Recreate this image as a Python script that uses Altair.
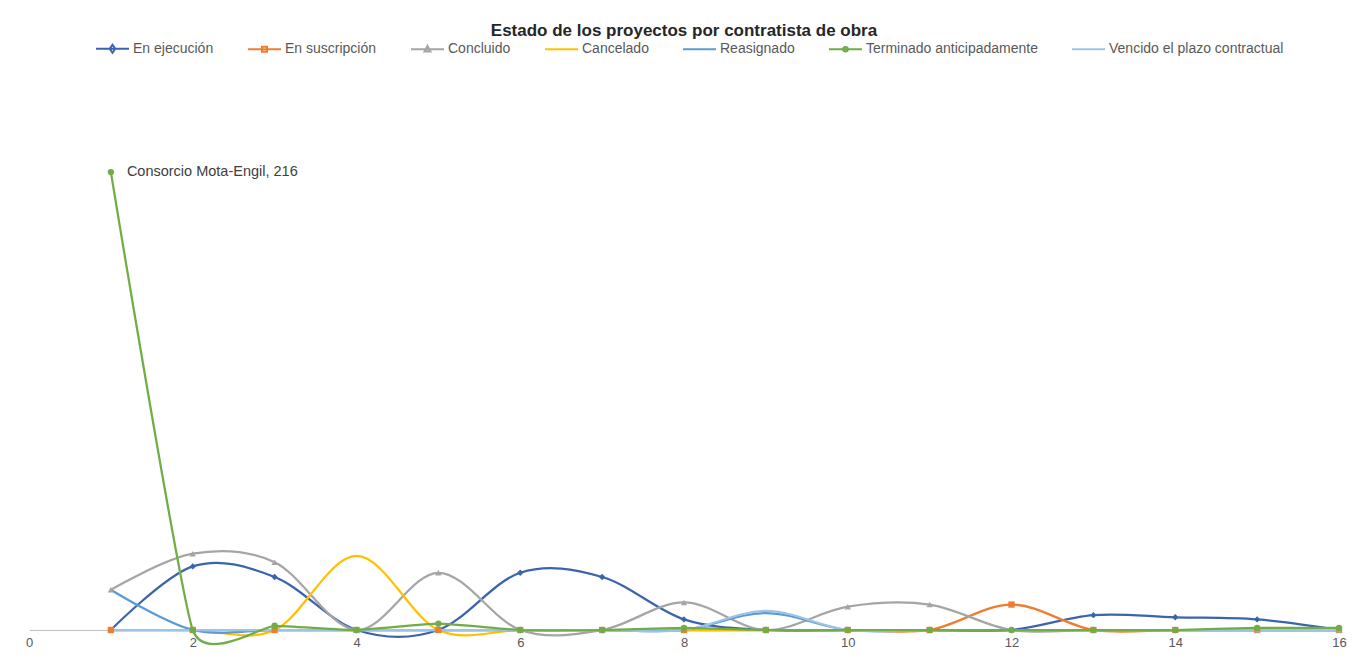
import altair as alt
import pandas as pd

# ---- data ----
x_vals = list(range(1, 17))
series = ["En ejecución", "En suscripción", "Concluido", "Cancelado",
          "Reasignado", "Terminado anticipadamente", "Vencido el plazo contractual"]
en_ejecucion = [0, 30, 25, 0, 0, 27, 25, 5, 0, 0, 0, 0, 7, 6, 5, 0]
en_suscripcion = [0, 0, 0, 0, 0, 0, 0, 0, 0, 0, 0, 12, 0, 0, 0, 0]
concluido = [19, 36, 32, 0, 27, 0, 0, 13, 0, 11, 12, 0, 0, 0, 0, 0]
cancelado = [0, 0, 0, 35, 0, 0, 0, 0, 0, 0, 0, 0, 0, 0, 0, 0]
reasignado = [19, 0, 0, 0, 0, 0, 0, 0, 8, 0, 0, 0, 0, 0, 0, 0]
terminado = [216, 0, 2, 0, 3, 0, 0, 1, 0, 0, 0, 0, 0, 0, 1, 1]
vencido = [0, 0, 0, 0, 0, 0, 0, 0, 9, 0, 0, 0, 0, 0, 0, 0]
x_ticks = [0, 2, 4, 6, 8, 10, 12, 14, 16]

label_series = "Terminado anticipadamente"
label_x = 1
label_value = 216
label_name = "Consorcio Mota-Engil"

colors = ["#3B64AD", "#ED7D31", "#A5A5A5", "#FFC000", "#5B9BD5", "#70AD47", "#9DC3E6"]

values = [en_ejecucion, en_suscripcion, concluido, cancelado, reasignado, terminado, vencido]
rows = []
for s_i, (s, vals) in enumerate(zip(series, values)):
    for x, v in zip(x_vals, vals):
        rows.append({"serie": s, "orden": s_i, "x": x, "y": v})
df = pd.DataFrame(rows)

lab_df = pd.DataFrame([{"x": label_x, "y": label_value,
                        "texto": f"{label_name}, {label_value}"}])

FONT = "Liberation Sans"

# legend symbols: line with marker in the middle
line_p = "M-1,0L1,0"
legend_paths = [
    line_p + "M0,-0.24L0.17,0L0,0.24L-0.17,0Z",
    line_p + "M-0.15,-0.15L0.15,-0.15L0.15,0.15L-0.15,0.15Z",
    line_p + "M0,-0.2L0.18,0.14L-0.18,0.14Z",
    line_p,
    line_p,
    line_p + "M-0.14,0A0.14,0.14 0 1,0 0.14,0A0.14,0.14 0 1,0 -0.14,0Z",
    line_p,
]

x_enc = alt.X("x:Q", scale=alt.Scale(domain=[0, 16], nice=False),
              axis=alt.Axis(values=x_ticks, title=None, grid=False, ticks=False,
                            labelFlush=False, labelFont=FONT, labelFontSize=13,
                            labelColor="#595959", domainColor="#BFBFBF",
                            labelPadding=6))
y_enc = alt.Y("y:Q", scale=alt.Scale(domain=[0, 250], nice=False, zero=False), axis=None)


def color_enc(legend=None):
    return alt.Color("serie:N", scale=alt.Scale(domain=series, range=colors), legend=legend)


base = alt.Chart(df)

lines_main = base.transform_filter(
    alt.datum.serie != label_series
).mark_line(interpolate="cardinal", tension=0, strokeWidth=2.25).encode(
    x=x_enc, y=y_enc, color=color_enc(), order="orden:Q"
)

lines_green = base.transform_filter(
    alt.datum.serie == label_series
).mark_line(interpolate="cardinal", tension=0.55, strokeWidth=2.25).encode(
    x=x_enc, y=y_enc, color=color_enc()
)

marker_series = ["En ejecución", "En suscripción", "Concluido", "Terminado anticipadamente"]
marker_shapes = ["diamond", "square", "triangle-up", "circle"]
markers = base.transform_filter(
    alt.FieldOneOfPredicate(field="serie", oneOf=marker_series)
).mark_point(filled=True, size=40, opacity=1).encode(
    x=x_enc, y=y_enc, color=color_enc(),
    shape=alt.Shape("serie:N", scale=alt.Scale(domain=marker_series, range=marker_shapes),
                    legend=None)
)

leg = alt.Legend(title=None, orient="none", legendX=66, legendY=-69,
                 direction="horizontal", columns=7, symbolSize=1089,
                 symbolStrokeWidth=2, labelFont=FONT, labelFontSize=14,
                 labelColor="#595959", labelOffset=3, columnPadding=30,
                 labelLimit=400)

legend_layer = base.transform_filter("datum.x > 100").mark_point(
    filled=False, strokeWidth=2, opacity=1
).encode(
    x=x_enc, y=y_enc,
    color=color_enc(leg),
    shape=alt.Shape("serie:N", scale=alt.Scale(domain=series, range=legend_paths), legend=leg),
)

label = alt.Chart(lab_df).mark_text(align="left", baseline="middle", dx=16,
                                    font=FONT, fontSize=14.5, color="#404040").encode(
    x=x_enc, y=y_enc, text="texto:N"
)

chart = alt.layer(lines_main, lines_green, markers, legend_layer, label).resolve_scale(
    shape="independent", color="independent"
).properties(
    width=1310, height=530,
    title=alt.TitleParams("Estado de los proyectos por contratista de obra",
                          font=FONT, fontSize=17, fontWeight="bold", color="#262626",
                          anchor="middle", offset=-9),
    autosize=alt.AutoSizeParams(type="none"),
    padding={"left": 21, "top": 92, "right": 23, "bottom": 20},
    background="white",
).configure_view(strokeWidth=0, stroke="transparent")

chart.save("out.html", embed_options={"renderer": "svg", "actions": False})
